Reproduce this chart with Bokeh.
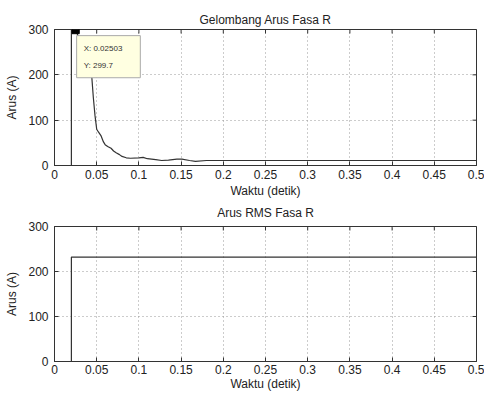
import math
from bokeh.plotting import figure
from bokeh.layouts import column
from bokeh.models import FixedTicker, CustomJSTickFormatter, Label, Range1d
from bokeh.embed import file_html
from bokeh.resources import INLINE

# ---- data ----
x_ticks = [0, 0.05, 0.1, 0.15, 0.2, 0.25, 0.3, 0.35, 0.4, 0.45, 0.5]
y_ticks = [0, 100, 200, 300]

t_wave = [0.02, 0.02, 0.02503, 0.035, 0.044, 0.046, 0.048, 0.05, 0.052, 0.055, 0.058,
          0.06, 0.063, 0.067, 0.07, 0.073, 0.077, 0.08, 0.085, 0.09, 0.1, 0.105, 0.11,
          0.12, 0.127, 0.135, 0.145, 0.151, 0.16, 0.167, 0.18, 0.2, 0.25, 0.3, 0.35,
          0.4, 0.45, 0.5]
i_wave = [0, 310, 299.7, 250, 200, 150, 110, 80, 74, 66, 52,
          46, 42, 38, 32, 28, 24, 20, 17, 16, 17, 18, 15,
          13, 11, 12, 14, 14, 11, 9, 11, 11, 11, 11, 11,
          11, 11, 11]

tip_x = 0.02503
tip_y = 299.7

t_rms = [0.02, 0.02, 0.5]
i_rms = [0, 232, 232]

FONT = "Liberation Sans"
FS = "12px"
INK = "#333333"
fmt = CustomJSTickFormatter(code="return (Math.round(tick*1000)/1000).toString();")


def style(p, title, tick_standoff, label_standoff, title_standoff, title_valign):
    p.title.text = title
    p.title.align = "center"
    p.title.vertical_align = title_valign
    p.title.text_font = FONT
    p.title.text_font_size = FS
    p.title.text_font_style = "normal"
    p.title.text_color = "#222222"
    p.title.standoff = title_standoff
    p.outline_line_color = INK
    p.outline_line_width = 1
    for ax in (p.xaxis[0], p.yaxis[0]):
        ax.major_tick_in = 4
        ax.major_tick_out = 0
        ax.minor_tick_in = 0
        ax.minor_tick_out = 0
        ax.axis_line_color = INK
        ax.major_tick_line_color = INK
        ax.major_label_text_font = FONT
        ax.major_label_text_font_size = FS
        ax.major_label_text_color = "#222222"
        ax.axis_label_text_font = FONT
        ax.axis_label_text_font_size = FS
        ax.axis_label_text_font_style = "normal"
        ax.axis_label_text_color = "#222222"
    p.xaxis[0].major_label_standoff = tick_standoff
    p.xaxis[0].axis_label_standoff = label_standoff
    p.yaxis[0].major_label_standoff = 6
    p.yaxis[0].axis_label_standoff = 6
    p.xaxis[0].ticker = FixedTicker(ticks=x_ticks)
    p.xaxis[0].formatter = fmt
    p.yaxis[0].ticker = FixedTicker(ticks=y_ticks)
    p.xaxis[0].axis_label = "Waktu (detik)"
    p.yaxis[0].axis_label = "Arus (A)"
    p.grid.grid_line_color = "#999999"
    p.grid.grid_line_dash = "1 3"
    p.grid.grid_line_width = 1
    p.xgrid.ticker = FixedTicker(ticks=x_ticks)
    p.ygrid.ticker = FixedTicker(ticks=y_ticks)
    # mirrored tick marks on top and right edges (MATLAB box style)
    p.scatter(x_ticks, [300] * len(x_ticks), marker="dash", size=8, angle=math.pi / 2,
              line_color=INK, line_width=1)
    p.scatter([0.5] * len(y_ticks), y_ticks, marker="dash", size=8,
              line_color=INK, line_width=1)


p1 = figure(width=484, height=200, x_range=Range1d(0, 0.5), y_range=Range1d(0, 300),
            output_backend="svg", toolbar_location=None,
            min_border_left=54, min_border_right=8, min_border_top=29, min_border_bottom=35)
style(p1, "Gelombang Arus Fasa R", 4, 2, 5, "bottom")
p1.line(t_wave, i_wave, line_color=INK, line_width=1.2)
p1.add_layout(Label(x=tip_x, y=tip_y, x_offset=1, y_offset=-6, anchor="top_left",
                    text=f"X: {tip_x}\nY: {tip_y}", text_font=FONT, text_font_size="8px",
                    text_color="#333333", text_line_height=1.9,
                    background_fill_color="#ffffe1", border_line_color="#aaaaaa",
                    padding=(7, 18, 8, 8)))
# data-tip marker (drawn as an annotation)
p1.add_layout(Label(x=tip_x, y=tip_y, anchor="center", text=" ", text_font_size="1px",
                    background_fill_color="black", border_line_color="black",
                    padding=(3, 4, 3, 4)))

p2 = figure(width=484, height=194, x_range=Range1d(0, 0.5), y_range=Range1d(0, 300),
            output_backend="svg", toolbar_location=None,
            min_border_left=54, min_border_right=8, min_border_top=26, min_border_bottom=33)
style(p2, "Arus RMS Fasa R", 3, 0, 9, "top")
p2.line(t_rms, i_rms, line_color=INK, line_width=1.2)

layout = column(p1, p2, spacing=0)
open("out.html", "w").write(file_html(layout, INLINE))
